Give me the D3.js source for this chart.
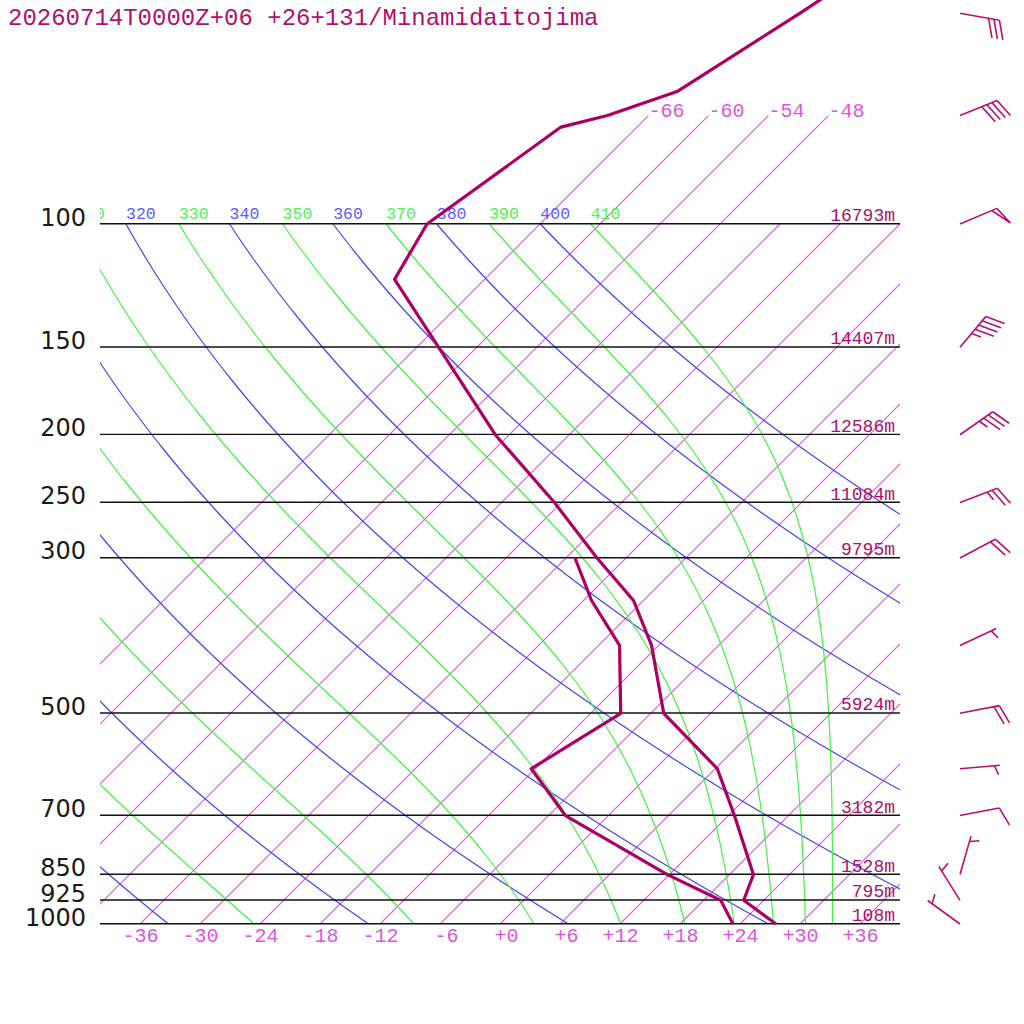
<!doctype html>
<html lang="en">
<head>
  <meta charset="utf-8">
  <title>Skew-T 20260714T0000Z+06 Minamidaitojima</title>
  <script src="https://cdn.jsdelivr.net/npm/d3@7"></script>
  <style>
    body { margin: 0; background: #fff; }
    text { white-space: pre; }
  </style>
</head>
<body>
  <div id="chart"></div>
  <script>
    const PROFILE = "#ab0062";
    const BARB = "#b8106c";
    const ISO_LINE = "#ec48f0";
    const ISO_TEXT = "#dd55e6";
    const DRY_LINE = "#4444f0";
    const DRY_TEXT = "#5c5cff";
    const MOIST_LINE = "#44f044";
    const MOIST_TEXT = "#55ee55";
    const HEIGHT_TEXT = "#a8106a";
    const MONO = "'Liberation Mono', 'DejaVu Sans Mono', monospace";

    const title = "20260714T0000Z+06 +26+131/Minamidaitojima";

    // temperature profile (hPa, degC)
    const tempPressure = [1000, 925, 850, 700, 600, 500, 400, 345, 300, 250, 200, 120, 100, 72.7, 70, 64.6, 50, 30];
    const tempValues = [27.6, 22.0, 20.4, 12.6, 6.2, -4.7, -12.7, -19.0, -26.9, -36.7, -49.4, -75.0, -77.3, -73.6, -70.1, -65.5, -61.1, -53.0];

    // dew point profile
    const dewPressure = [1000, 925, 850, 700, 600, 500, 400, 345, 300];
    const dewValues = [23.3, 19.7, 11.8, -4.3, -12.4, -9.0, -15.9, -23.2, -29.1];

    // standard levels and geopotential heights
    const levelPressure = [100, 150, 200, 250, 300, 500, 700, 850, 925, 1000];
    const levelHeight = [16793, 14407, 12586, 11084, 9795, 5924, 3182, 1528, 795, 108];

    // winds (direction in degrees, speed in knots)
    const windPressure = [50, 70, 100, 150, 200, 250, 300, 400, 500, 600, 700, 850, 925, 1000];
    const windDirection = [100, 68, 67, 40, 55, 69, 62, 65, 79, 85, 79, 16, 328, 306];
    const windSpeed = [30, 40, 50, 45, 35, 25, 20, 5, 20, 5, 10, 5, 5, 5];

    // background lines
    const tempTicks = [-36, -30, -24, -18, -12, -6, 0, 6, 12, 18, 24, 30, 36];
    const isotherms = [-66, -60, -54, -48, -42, -36, -30, -24, -18, -12, -6, 0, 6, 12, 18, 24, 30, 36];
    const labelledIsotherms = [-66, -60, -54, -48];
    const dryAdiabats = [220, 240, 260, 280, 300, 320, 340, 360, 380, 400];
    const moistAdiabats = [230, 250, 270, 290, 310, 330, 350, 370, 390, 410];

    const w = 1024;
    const h = 1024;
    const left = 100;
    const right = 900;

    const yScale = d3.scaleLog().domain([1000, 100]).range([924, 224]);
    const tScale = d3.scaleLinear().domain([-40, 40]).range([left, right]);
    // 45 degree skew: one pixel right for every pixel up
    const skewX = (t, p) => tScale(t) + (yScale(1000) - yScale(p));

    const curveLevels = d3.range(0, 101).map(i => 1000 * Math.pow(0.1, i / 100));

    function thetaESat(tk, p) {
      const tc = tk - 273.15;
      const es = 6.112 * Math.exp(17.67 * tc / (tc + 243.5));
      if (es > 0.9 * p) return Infinity;
      const r = 622 * es / (p - es);
      return tk * Math.pow(1000 / p, 0.2854 * (1 - 0.00028 * r)) *
        Math.exp((3.376 / tk - 0.00254) * r * (1 + 0.00081 * r));
    }

    function moistTemp(thetaE, p) {
      let lo = 120, hi = 360;
      for (let i = 0; i < 60; i++) {
        const mid = (lo + hi) / 2;
        if (thetaESat(mid, p) > thetaE) hi = mid; else lo = mid;
      }
      return (lo + hi) / 2 - 273.15;
    }

    const dryTemp = (theta, p) => theta * Math.pow(p / 1000, 0.2857) - 273.15;

    const line = d3.line().x(d => skewX(d.t, d.p)).y(d => yScale(d.p));

    const svg = d3.select("#chart")
      .append("svg")
      .attr("width", w)
      .attr("height", h)
      .style("display", "block")
      .style("background", "#fff");

    const defs = svg.append("defs");
    defs.append("clipPath").attr("id", "plot-clip")
      .append("rect").attr("x", left).attr("y", 0).attr("width", right - left).attr("height", yScale(1000));
    defs.append("clipPath").attr("id", "label-clip")
      .append("rect").attr("x", left).attr("y", 0).attr("width", w - left).attr("height", h);

    const grid = svg.append("g")
      .attr("clip-path", "url(#plot-clip)")
      .style("fill", "none");

    function addCurve(data, color, width) {
      grid.append("path")
        .datum(data)
        .attr("d", line)
        .style("stroke", color)
        .style("stroke-width", width);
    }

    // isotherms
    isotherms.forEach(t => {
      const top = labelledIsotherms.includes(t) ? 70 : 100;
      addCurve([{ t, p: 1000 }, { t, p: top }], ISO_LINE, 1.1);
    });

    // dry adiabats
    dryAdiabats.forEach(theta => {
      addCurve(curveLevels.map(p => ({ p, t: dryTemp(theta, p) })), DRY_LINE, 1.2);
    });

    // moist adiabats
    moistAdiabats.forEach(thetaE => {
      addCurve(curveLevels.map(p => ({ p, t: moistTemp(thetaE, p) })), MOIST_LINE, 1.2);
    });

    // pressure lines
    svg.append("g")
      .selectAll("line")
      .data(levelPressure)
      .join("line")
      .attr("x1", left)
      .attr("x2", right)
      .attr("y1", d => yScale(d) - 0.3)
      .attr("y2", d => yScale(d) - 0.3)
      .style("stroke", "#111")
      .style("stroke-width", 1.4);

    // adiabat labels along 100 hPa (only those reaching into the plot)
    const adiabatLabels = svg.append("g").attr("clip-path", "url(#label-clip)")
      .style("font-family", MONO)
      .style("font-size", "16.5px");
    dryAdiabats.forEach(theta => {
      const x = skewX(dryTemp(theta, 100), 100);
      if (x < 65) return;
      adiabatLabels.append("text")
        .attr("x", x)
        .attr("y", yScale(100) - 5)
        .attr("fill", DRY_TEXT)
        .text(theta);
    });
    moistAdiabats.forEach(thetaE => {
      const x = skewX(moistTemp(thetaE, 100), 100);
      if (x < 65) return;
      adiabatLabels.append("text")
        .attr("x", x)
        .attr("y", yScale(100) - 5)
        .attr("fill", MOIST_TEXT)
        .text(thetaE);
    });

    // isotherm labels at the top
    svg.append("g")
      .selectAll("text")
      .data(labelledIsotherms)
      .join("text")
      .attr("x", d => skewX(d, 70))
      .attr("y", yScale(70) + 1.5)
      .attr("fill", ISO_TEXT)
      .style("font-family", MONO)
      .style("font-size", "20px")
      .text(d => d);

    // temperature axis
    const fmtTemp = d => (d > 0 ? "+" + d : d === 0 ? "+0" : String(d)).padStart(3, " ");
    const xAxis = svg.append("g")
      .attr("transform", `translate(0, ${yScale(1000) + 4})`)
      .call(d3.axisBottom(tScale).tickValues(tempTicks).tickSize(0).tickPadding(0).tickFormat(fmtTemp));
    xAxis.select(".domain").remove();
    xAxis.selectAll("text")
      .attr("fill", ISO_TEXT)
      .style("font-family", MONO)
      .style("font-size", "20px");

    // pressure axis
    const yAxis = svg.append("g")
      .attr("transform", "translate(86, 0)")
      .call(d3.axisLeft(yScale).tickValues(levelPressure).tickSize(0).tickPadding(0).tickFormat(d => d));
    yAxis.select(".domain").remove();
    yAxis.selectAll("text")
      .attr("dy", 1)
      .attr("fill", "#1a1a1a")
      .style("font-family", "'DejaVu Sans', sans-serif")
      .style("font-size", "24px");

    // heights
    svg.append("g")
      .selectAll("text")
      .data(levelPressure)
      .join("text")
      .attr("x", 895)
      .attr("y", d => yScale(d) - 3)
      .attr("text-anchor", "end")
      .attr("fill", HEIGHT_TEXT)
      .style("font-family", MONO)
      .style("font-size", "18px")
      .text((d, i) => levelHeight[i] + "m");

    // profiles
    const tempData = tempPressure.map((p, i) => ({ p, t: tempValues[i] }));
    const dewData = dewPressure.map((p, i) => ({ p, t: dewValues[i] }));
    [dewData, tempData].forEach(data => {
      svg.append("path")
        .datum(data)
        .attr("d", line)
        .attr("fill", "none")
        .attr("stroke", PROFILE)
        .attr("stroke-width", 3.2)
        .attr("stroke-linejoin", "round");
    });

    // title
    svg.append("text")
      .attr("x", 8)
      .attr("y", 25)
      .attr("fill", "#b0106c")
      .style("font-family", MONO)
      .style("font-size", "24px")
      .text(title);

    // wind barbs
    const barbs = svg.append("g")
      .attr("stroke", BARB)
      .attr("stroke-width", 1.6)
      .attr("fill", "none");

    function addBarb(x0, y0, dir, speed) {
      const rad = dir * Math.PI / 180;
      const u = [Math.sin(rad), -Math.cos(rad)];
      const perp = [-u[1], u[0]];
      const fd = [0.94 * perp[0] + 0.34 * u[0], 0.94 * perp[1] + 0.34 * u[1]];
      const staff = 40, feather = 20, gap = 5.5;
      const end = [x0 + staff * u[0], y0 + staff * u[1]];
      barbs.append("line")
        .attr("x1", x0).attr("y1", y0)
        .attr("x2", end[0]).attr("y2", end[1]);

      let s = Math.round(speed / 5) * 5;
      const flags = Math.floor(s / 50);
      s -= flags * 50;
      const full = Math.floor(s / 10);
      const half = s - full * 10 >= 5;
      let pos = 0;
      const base = k => [end[0] - k * gap * u[0], end[1] - k * gap * u[1]];

      for (let i = 0; i < flags; i++) {
        const b = base(pos);
        const b2 = base(pos + 1);
        barbs.append("path")
          .attr("d", d3.line()([b, [b[0] + feather * fd[0], b[1] + feather * fd[1]], b2]))
          .attr("stroke-linejoin", "miter");
        pos += 1.3;
      }
      for (let i = 0; i < full; i++) {
        const b = base(pos);
        barbs.append("line")
          .attr("x1", b[0]).attr("y1", b[1])
          .attr("x2", b[0] + feather * fd[0]).attr("y2", b[1] + feather * fd[1]);
        pos += 1;
      }
      if (half) {
        if (pos === 0) pos = 1;
        const b = base(pos);
        barbs.append("line")
          .attr("x1", b[0]).attr("y1", b[1])
          .attr("x2", b[0] + feather / 2 * fd[0]).attr("y2", b[1] + feather / 2 * fd[1]);
      }
    }

    windPressure.forEach((p, i) => addBarb(960, yScale(p), windDirection[i], windSpeed[i]));
  </script>
</body>
</html>
